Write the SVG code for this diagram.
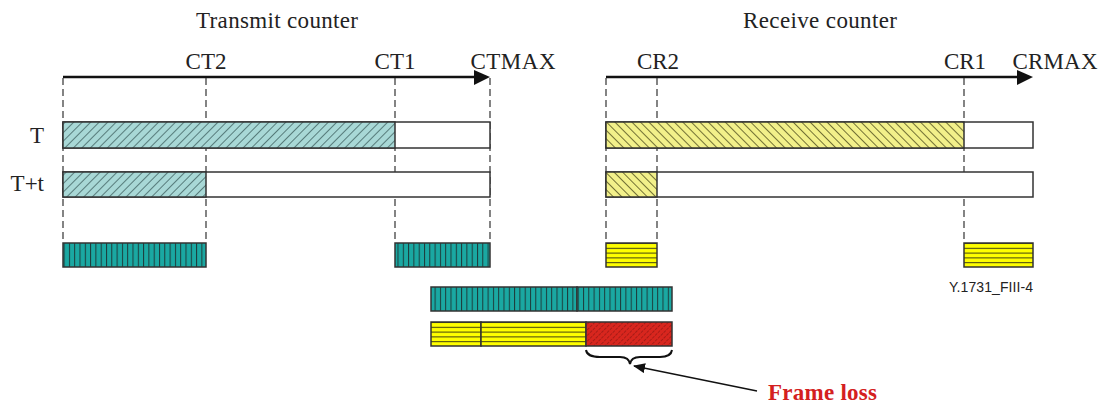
<svg xmlns="http://www.w3.org/2000/svg" width="1104" height="403" viewBox="0 0 1104 403">
<style>
.lbl{font-family:"Liberation Serif","Times New Roman",serif;font-size:23px;fill:#222}
.bar{stroke:#333;stroke-width:1.5}
.dash{stroke:#333;stroke-width:1.2;stroke-dasharray:7,4;fill:none}
.axis{stroke:#111;stroke-width:2.5;fill:none}
</style>
<defs>
<pattern id="hTeal" patternUnits="userSpaceOnUse" width="6" height="6" patternTransform="rotate(45)">
<rect width="6" height="6" fill="#a8d8d6"/><line x1="0" y1="0" x2="0" y2="6" stroke="#2a4a4a" stroke-width="1.3"/>
</pattern>
<pattern id="hYel" patternUnits="userSpaceOnUse" width="6" height="6" patternTransform="rotate(-45)">
<rect width="6" height="6" fill="#f2f08a"/><line x1="0" y1="0" x2="0" y2="6" stroke="#3a3a10" stroke-width="1.4"/>
</pattern>
<pattern id="vTeal" patternUnits="userSpaceOnUse" width="5.3" height="10">
<rect width="5.3" height="10" fill="#1aa8a2"/><line x1="0.5" y1="0" x2="0.5" y2="10" stroke="#1d3a3a" stroke-width="1"/>
</pattern>
<pattern id="hzYel" patternUnits="userSpaceOnUse" width="10" height="4.8" y="243">
<rect width="10" height="4.8" fill="#ffff00"/><line x1="0" y1="0.5" x2="10" y2="0.5" stroke="#404010" stroke-width="1"/>
</pattern>
<pattern id="hzYel2" patternUnits="userSpaceOnUse" width="10" height="4.8" y="322">
<rect width="10" height="4.8" fill="#ffff00"/><line x1="0" y1="0.5" x2="10" y2="0.5" stroke="#404010" stroke-width="1"/>
</pattern>
<pattern id="hRed" patternUnits="userSpaceOnUse" width="4" height="4" patternTransform="rotate(45)">
<rect width="4" height="4" fill="#d8261e"/><line x1="0" y1="0" x2="0" y2="4" stroke="#6a1010" stroke-width="0.9" stroke-dasharray="2,1"/>
</pattern>
<marker id="ah" markerWidth="12" markerHeight="10" refX="11" refY="5" orient="auto" markerUnits="userSpaceOnUse">
<path d="M0,0 L12,5 L0,10 Z" fill="#111"/>
</marker>
</defs>
<rect width="1104" height="403" fill="#fff"/>

<g id="titles">
<text class="lbl" x="277" y="28" text-anchor="middle" textLength="162">Transmit counter</text>
<text class="lbl" x="820" y="28" text-anchor="middle" textLength="154">Receive counter</text>
</g>

<g id="axis-labels">
<text class="lbl" x="206" y="69" text-anchor="middle">CT2</text>
<text class="lbl" x="395" y="69" text-anchor="middle">CT1</text>
<text class="lbl" x="513" y="69" text-anchor="middle" textLength="85">CTMAX</text>
<text class="lbl" x="658" y="69" text-anchor="middle">CR2</text>
<text class="lbl" x="965" y="69" text-anchor="middle">CR1</text>
<text class="lbl" x="1055" y="69" text-anchor="middle" textLength="85">CRMAX</text>
<text class="lbl" x="44" y="143" text-anchor="end">T</text>
<text class="lbl" x="44" y="191" text-anchor="end">T+t</text>
</g>

<g id="connectors">
<line class="axis" x1="63" y1="77" x2="476" y2="77"/>
<polygon points="474,70 490,77 474,85" fill="#111"/>
<line class="axis" x1="606" y1="77" x2="1019" y2="77"/>
<polygon points="1017,70 1033,77 1017,85" fill="#111"/>
<line class="dash" x1="63" y1="78" x2="63" y2="243"/>
<line class="dash" x1="206" y1="78" x2="206" y2="243"/>
<line class="dash" x1="395" y1="78" x2="395" y2="243"/>
<line class="dash" x1="490" y1="78" x2="490" y2="243"/>
<line class="dash" x1="606" y1="78" x2="606" y2="243"/>
<line class="dash" x1="657" y1="78" x2="657" y2="243"/>
<line class="dash" x1="964" y1="78" x2="964" y2="243"/>
<path d="M586,350 Q587,357 600,357 L620,357 Q629,357 630,364 Q631,357 640,357 L660,357 Q671,357 672,350" fill="none" stroke="#111" stroke-width="2"/>
<line x1="757" y1="391" x2="634" y2="366" stroke="#111" stroke-width="1.3" marker-end="url(#ah)"/>
</g>

<g id="transmit-T">
<rect class="bar" x="63" y="122" width="427" height="26" fill="#fff"/>
<rect class="bar" x="63" y="122" width="332" height="26" fill="url(#hTeal)"/>
</g>
<g id="transmit-Tt">
<rect class="bar" x="63" y="172" width="427" height="25" fill="#fff"/>
<rect class="bar" x="63" y="172" width="143" height="25" fill="url(#hTeal)"/>
</g>
<g id="receive-T">
<rect class="bar" x="606" y="122" width="427" height="26" fill="#fff"/>
<rect class="bar" x="606" y="122" width="358" height="26" fill="url(#hYel)"/>
</g>
<g id="receive-Tt">
<rect class="bar" x="606" y="172" width="427" height="25" fill="#fff"/>
<rect class="bar" x="606" y="172" width="51" height="25" fill="url(#hYel)"/>
</g>

<g id="tx-block1"><rect class="bar" x="63" y="243" width="143" height="24" fill="url(#vTeal)"/></g>
<g id="tx-block2"><rect class="bar" x="395" y="243" width="95" height="24" fill="url(#vTeal)"/></g>
<g id="rx-block1"><rect class="bar" x="606" y="243" width="51" height="24" fill="url(#hzYel)"/></g>
<g id="rx-block2"><rect class="bar" x="964" y="243" width="69" height="24" fill="url(#hzYel)"/></g>

<g id="tx-sum">
<rect class="bar" x="431" y="287" width="146" height="24" fill="url(#vTeal)"/>
<rect class="bar" x="577" y="287" width="95" height="24" fill="url(#vTeal)"/>
</g>
<g id="rx-sum">
<rect class="bar" x="431" y="322" width="50" height="24" fill="url(#hzYel2)"/>
<rect class="bar" x="481" y="322" width="105" height="24" fill="url(#hzYel2)"/>
<rect class="bar" x="586" y="322" width="86" height="24" fill="url(#hRed)"/>
</g>

<g id="frame-loss">
<text x="768" y="400" font-family="Liberation Serif,'Times New Roman',serif" font-size="23" font-weight="bold" fill="#d42020" textLength="109">Frame loss</text>
</g>
<g id="fig-id">
<text x="991" y="292" text-anchor="middle" font-family="Liberation Sans,Arial,sans-serif" font-size="14" fill="#222" textLength="84">Y.1731_FIII-4</text>
</g>
</svg>
